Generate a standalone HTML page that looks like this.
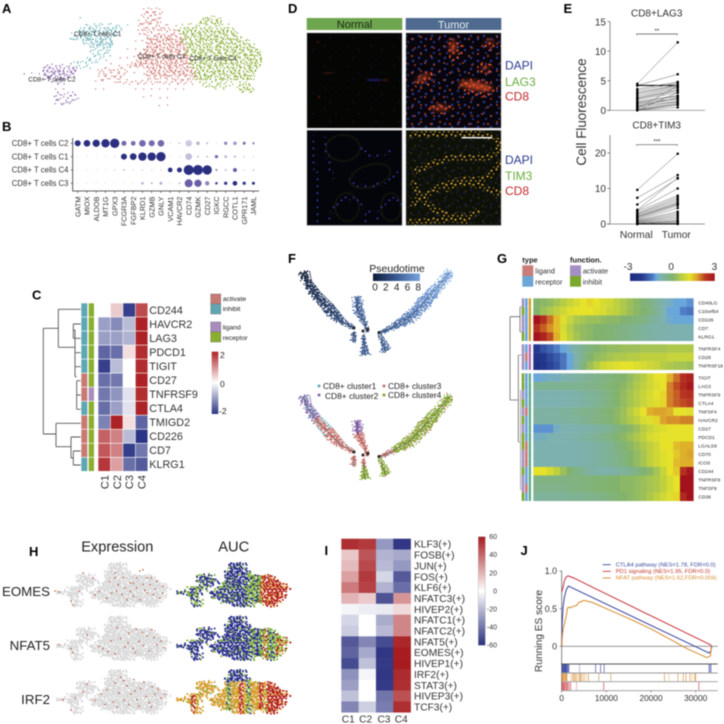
<!DOCTYPE html>
<html lang="en">
<head>
<meta charset="utf-8">
<title>CD8+ T cell multi-panel figure</title>
<style>
html,body{margin:0;padding:0;background:#fff;width:724px;height:724px;overflow:hidden}
svg{display:block;filter:blur(.42px)}
text{font-family:"Liberation Sans",sans-serif;fill:#222}
.L{font-weight:bold;font-size:13px;fill:#000}
</style>
</head>
<body>
<svg id="fig" xmlns="http://www.w3.org/2000/svg" width="724" height="724" viewBox="0 0 724 724">
<defs>
<filter id="blur1"><feGaussianBlur stdDeviation="2"/></filter>
<filter id="blur2"><feGaussianBlur stdDeviation="0.6"/></filter>
<pattern id="nuc" width="13" height="11" patternUnits="userSpaceOnUse">
<circle cx="3" cy="3" r="1.2" fill="#2b3a9a"/><circle cx="10" cy="6" r="1.2" fill="#2b3a9a"/><circle cx="5" cy="9" r="1" fill="#2b3a9a"/>
</pattern>
<pattern id="nucDim" width="23" height="21" patternUnits="userSpaceOnUse">
<circle cx="3" cy="4" r=".7" fill="#10143c"/><circle cx="14" cy="9" r=".8" fill="#10143c"/><circle cx="8" cy="17" r=".7" fill="#10143c"/>
</pattern>
<pattern id="redDots" width="8" height="7" patternUnits="userSpaceOnUse">
<circle cx="1.5" cy="1.5" r="1.1" fill="#e8552a"/><circle cx="5.5" cy="4" r="1.2" fill="#d9401f"/>
</pattern>
<pattern id="redSparse" width="19" height="17" patternUnits="userSpaceOnUse">
<circle cx="3" cy="3" r="1" fill="#d9481f"/><circle cx="13" cy="5" r="1.1" fill="#c93f1e"/><circle cx="7" cy="12" r="1" fill="#d9481f"/><circle cx="16" cy="14" r="1" fill="#c93f1e"/>
</pattern>
<pattern id="yelDots" width="9" height="7" patternUnits="userSpaceOnUse">
<circle cx="1.5" cy="1.5" r="1" fill="#dba92c"/><circle cx="5.5" cy="2.8" r="1.1" fill="#cf9a28"/><circle cx="3" cy="5.5" r=".9" fill="#d6a22a"/><circle cx="7.6" cy="6" r=".8" fill="#c08a24"/>
</pattern>
<pattern id="yelSparse" width="17" height="15" patternUnits="userSpaceOnUse">
<circle cx="3" cy="3" r=".9" fill="#c8962a"/><circle cx="12" cy="5" r=".8" fill="#8f6d20"/><circle cx="7" cy="11" r=".9" fill="#c8962a"/><circle cx="15" cy="13" r=".7" fill="#8f6d20"/>
</pattern>
<pattern id="bluDots" width="8" height="7" patternUnits="userSpaceOnUse">
<circle cx="1.5" cy="1.5" r="1" fill="#2c39a8"/><circle cx="5.5" cy="4.2" r="1" fill="#2c39a8"/>
</pattern>
<linearGradient id="ptGrad"><stop offset="0" stop-color="#0e1c38"/><stop offset=".5" stop-color="#3a5a92"/><stop offset="1" stop-color="#7aa5e0"/></linearGradient>
<linearGradient id="cbarC" x1="0" y1="0" x2="0" y2="1"><stop offset="0" stop-color="#ad2226"/><stop offset=".5" stop-color="#fff"/><stop offset="1" stop-color="#2c3585"/></linearGradient>
<linearGradient id="cbarI" x1="0" y1="0" x2="0" y2="1"><stop offset="0" stop-color="#a61c1f"/><stop offset=".5" stop-color="#fff"/><stop offset="1" stop-color="#2a3080"/></linearGradient>
<clipPath id="clipD1"><rect x="306.7" y="32.7" width="95.6" height="95.6"/></clipPath>
<clipPath id="clipD2"><rect x="405.7" y="32.7" width="95.6" height="95.6"/></clipPath>
<clipPath id="clipD3"><rect x="306.7" y="130" width="95.6" height="95.6"/></clipPath>
<clipPath id="clipD4"><rect x="405.7" y="130" width="95.6" height="95.6"/></clipPath>
</defs>

<text class="L" x="2" y="13">A</text>
<text class="L" x="2" y="131">B</text>
<text class="L" x="32" y="299.5">C</text>
<text class="L" x="288" y="13">D</text>
<text class="L" x="563.5" y="13">E</text>
<text class="L" x="288" y="263">F</text>
<text class="L" x="497" y="263">G</text>
<text class="L" x="29" y="556">H</text>
<text class="L" x="324.5" y="555">I</text>
<text class="L" x="520.5" y="555">J</text>

<g id="panelA"></g>
<g id="panelB"></g>

<g id="panelC">
<path fill="none" stroke="#555" stroke-width=".9" d="M43.3 328.3V434M43.3 328.3H58.3M58.3 309.3V347.3M58.3 309.3H80.7M58.3 347.3H75M75 330V376.7M75 330H73.3M73.3 324V338.3M73.3 324H80.7M73.3 338.3H80.7M75 352.7H80.7M75 366.7H80.7M75 376.7H76.7M76.7 380.7V409.3M76.7 380.7H80.7M76.7 395H80.7M76.7 409.3H80.7M43.3 434H56M56 423.3V446.7M56 423.3H80.7M56 446.7H71M71 437V458M71 437H80.7M71 458H73.3M73.3 451V465M73.3 451H80.7M73.3 465H80.7"/>
<rect x="210.7" y="294" width="10" height="10" fill="#c77a74" stroke="#777" stroke-width=".5"/>
<rect x="210.7" y="304" width="10" height="10" fill="#5fa6b3" stroke="#777" stroke-width=".5"/>
<text x="222.7" y="301" font-size="6.8">activate</text>
<text x="222.7" y="311" font-size="6.8">inhibit</text>
<rect x="210.7" y="322" width="10" height="10" fill="#a98bbd" stroke="#777" stroke-width=".5"/>
<rect x="210.7" y="332" width="10" height="10" fill="#8aaf2c" stroke="#777" stroke-width=".5"/>
<text x="222.7" y="329.5" font-size="6.8">ligand</text>
<text x="222.7" y="340" font-size="6.8">receptor</text>
<rect x="211.7" y="351.7" width="6.6" height="62.3" fill="url(#cbarC)"/>
<text x="220" y="358" font-size="8.5">2</text>
<text x="220" y="387" font-size="8.5">0</text>
<text x="219" y="414" font-size="8.5">-2</text>
</g>

<g id="panelD">
<rect x="306.7" y="18" width="95.6" height="12" fill="#6ea64f"/>
<rect x="405.7" y="18" width="95.6" height="12" fill="#4e6a8e"/>
<text x="354.5" y="28" font-size="11" text-anchor="middle" style="fill:#1c2a14">Normal</text>
<text x="453.5" y="28.3" font-size="11" text-anchor="middle" style="fill:#e8ecf2">Tumor</text>

<g clip-path="url(#clipD1)">
<rect x="306.7" y="32.7" width="95.6" height="95.6" fill="#050504"/>
<rect x="306.7" y="32.7" width="95.6" height="95.6" fill="url(#nucDim)"/>
<g filter="url(#blur2)">
<ellipse cx="374" cy="80" rx="8" ry="1.2" fill="#161c58"/>
<ellipse cx="328" cy="73" rx="6" ry="1" fill="#2c140c"/>
<ellipse cx="385" cy="80" rx="3" ry="1" fill="#3a180c"/>
<circle cx="318" cy="42" r="1.2" fill="#3a180c"/><circle cx="319" cy="97" r="1.2" fill="#4a1d0c"/>
</g>
</g>

<g clip-path="url(#clipD2)">
<rect x="405.7" y="32.7" width="95.6" height="95.6" fill="#08060c"/>
<rect x="405.7" y="32.7" width="95.6" height="95.6" fill="url(#nuc)"/>
<rect x="405.7" y="32.7" width="95.6" height="95.6" fill="url(#redSparse)" opacity=".8"/>
<g filter="url(#blur1)" fill="#c8441f">
<ellipse cx="453" cy="47" rx="4" ry="7" opacity=".6"/><ellipse cx="490" cy="43" rx="5" ry="3" opacity=".45"/>
<ellipse cx="476" cy="86" rx="17" ry="4" transform="rotate(10 476 86)" opacity=".85"/>
<ellipse cx="423" cy="78" rx="8" ry="3" transform="rotate(-30 423 78)" opacity=".6"/>
<ellipse cx="485" cy="68" rx="5" ry="3" opacity=".4"/><ellipse cx="440" cy="108" rx="9" ry="3" opacity=".55"/>
</g>
<g fill="url(#redDots)">
<ellipse cx="455" cy="50" rx="8" ry="11"/><ellipse cx="425" cy="80" rx="12" ry="7" transform="rotate(-30 425 80)"/>
<ellipse cx="478" cy="88" rx="20" ry="9" transform="rotate(10 478 88)"/><ellipse cx="440" cy="108" rx="14" ry="6"/><ellipse cx="490" cy="45" rx="8" ry="6"/><ellipse cx="485" cy="68" rx="8" ry="6"/>
</g>
</g>

<g clip-path="url(#clipD3)">
<rect x="306.7" y="130" width="95.6" height="95.6" fill="#04050a"/>
<g fill="none" stroke="#10130a" stroke-width="2">
<ellipse cx="343" cy="148" rx="17" ry="13"/><ellipse cx="370" cy="176" rx="21" ry="11" transform="rotate(-18 370 176)"/><ellipse cx="347" cy="207" rx="12" ry="14"/><ellipse cx="391" cy="207" rx="10" ry="14"/>
</g>
<g fill="none" stroke="url(#bluDots)" stroke-width="4">
<path d="M312 135C312 160 322 190 316 222"/><path d="M322 135C330 150 326 170 335 178"/>
<path d="M360 148C368 158 378 158 392 150"/><path d="M350 175C355 192 378 190 398 172"/><path d="M330 222C330 205 345 188 362 205"/><path d="M378 222C378 205 392 190 402 205"/>
<path d="M365 222C366 215 368 212 372 208"/>
</g>
</g>

<g clip-path="url(#clipD4)">
<rect x="405.7" y="130" width="95.6" height="95.6" fill="#0d1007"/>
<rect x="405.7" y="130" width="95.6" height="95.6" fill="url(#nucDim)"/>
<rect x="405.7" y="130" width="95.6" height="95.6" fill="url(#nuc)" opacity=".3"/>
<rect x="405.7" y="130" width="95.6" height="95.6" fill="url(#yelSparse)" opacity=".3"/>
<g fill="none" stroke="url(#yelDots)" stroke-width="6.5">
<path d="M408 136C425 132 445 136 460 134S490 135 503 145"/>
<path d="M412 172C430 165 445 155 470 158S495 150 503 143"/>
<path d="M410 205C425 195 450 178 470 180S495 170 502 160"/>
<path d="M412 180C420 195 425 205 440 212S470 218 480 210"/>
<path d="M445 190C460 178 485 185 500 195"/>
<path d="M408 222C425 224 450 215 470 222"/>
</g>
</g>

<rect x="306.7" y="32.7" width="95.6" height="95.6" fill="none" stroke="#d8d8d8" stroke-width=".8"/>
<rect x="405.7" y="32.7" width="95.6" height="95.6" fill="none" stroke="#d8d8d8" stroke-width=".8"/>
<rect x="306.7" y="130" width="95.6" height="95.6" fill="none" stroke="#d8d8d8" stroke-width=".8"/>
<rect x="405.7" y="130" width="95.6" height="95.6" fill="none" stroke="#d8d8d8" stroke-width=".8"/>
<rect x="461.7" y="137" width="30.6" height="1.4" fill="#fff"/>
<text x="505" y="69.5" font-size="12" style="fill:#2b3a8e">DAPI</text>
<text x="505" y="86" font-size="12" style="fill:#6aad3c">LAG3</text>
<text x="505" y="100.7" font-size="12" style="fill:#c0282c">CD8</text>
<text x="505" y="164" font-size="12" style="fill:#2b3a8e">DAPI</text>
<text x="505" y="180" font-size="12" style="fill:#6aad3c">TIM3</text>
<text x="505" y="195" font-size="12" style="fill:#c0282c">CD8</text>
</g>

<g id="panelE"></g>
<g id="panelF"></g>
<g id="panelG">
<path fill="none" stroke="#666" stroke-width=".8" d="M510 316.7V400M510 316.7H520M520 307V332M510 400H518.3M518.3 355V442"/>
<path fill="none" stroke="#aaa" stroke-width="1" d="M520 307H522M520 332H522M518.3 355H521.5M518.3 442H520.5M520.5 390V490"/>
</g>
<g id="panelH"></g>
<g id="panelI">
<rect x="478.3" y="536.7" width="7" height="108.6" fill="url(#cbarI)" stroke="#999" stroke-width=".3"/>
</g>
<g id="panelJ"></g>
</svg>

<script>
/* ---------- panel A data: density bins [tSNE row bin, from col bin, to col bin, density] ---------- */
const tsneC1Bins = [[3,14,15,1],[4,14,16,1],[5,16,24,2],[5,25,27,1],[6,15,25,3],[7,12,15,1],[7,15,24,3],[8,13,23,3],[9,16,23,3],[10,18,23,3],[11,18,22,2],[12,18,22,2],[13,17,21,2],[14,14,19,2],[15,14,17,2],[8,8,8,1],[12,4,4,1]];
const tsneC2Bins = [[14,6,8,1],[15,6,13,2],[16,2,4,1],[16,6,14,3],[17,0,5,1],[17,6,13,3],[18,7,12,3],[19,8,11,2],[20,8,10,1],[21,9,11,1],[22,9,14,2],[23,9,14,2],[24,9,13,2],[25,10,12,1]];
const tsneC3Bins = [[0,32,36,1],[1,31,35,2],[2,31,35,2],[3,31,35,2],[4,30,35,2],[5,30,36,2],[5,37,39,1],[6,30,39,2],[7,30,40,2],[8,28,31,1],[8,32,41,3],[9,28,31,1],[9,32,41,3],[10,27,31,1],[10,32,41,3],[11,26,30,1],[11,31,41,3],[12,25,29,1],[12,30,42,3],[13,25,29,1],[13,30,42,3],[14,24,28,1],[14,29,43,3],[15,22,27,1],[15,28,43,3],[16,20,26,2],[16,27,31,1],[16,32,44,3],[17,20,26,2],[17,27,31,1],[17,32,44,3],[18,20,25,2],[18,26,31,1],[18,32,44,2],[19,18,22,1],[19,24,43,2],[20,18,25,1],[20,26,42,1],[21,18,22,1],[21,28,41,1],[22,30,40,1],[23,30,38,1],[24,32,38,1],[25,34,38,1]];
const tsneC4Bins = [[3,46,50,2],[4,45,50,3],[5,41,52,2],[6,40,53,3],[7,41,54,3],[8,41,55,3],[9,41,57,3],[10,42,58,3],[11,42,59,3],[12,42,60,3],[13,43,60,3],[14,43,60,3],[15,43,60,3],[16,44,59,3],[17,44,58,3],[18,44,58,3],[19,45,53,2],[19,55,57,2],[20,46,52,2],[20,55,57,3],[21,48,51,1],[21,55,58,3],[22,49,50,1]];

/* ---------- panel B data ---------- */
const dotGenes = ["GATM","MIOX","ALDOB","MT1G","GPX3","FCGR3A","FGFBP2","KLRD1","GZMB","GNLY","VCAM1","HAVCR2","CD74","GZMK","CD27","IGKC","RGCC","COTL1","GPR171","JAML"];
const dotRows = ["CD8+ T cells C2","CD8+ T cells C1","CD8+ T cells C4","CD8+ T cells C3"];
const dotPctC2 = [18,20,22,25,28,15,14,20,18,20,4,5,20,11,6,3,10,11,9,7];
const dotPctC1 = [3,3,3,3,4,18,20,25,25,28,3,4,20,7,5,10,8,7,4,3];
const dotPctC4 = [3,3,3,3,4,6,4,4,4,4,14,15,30,30,28,7,7,12,4,5];
const dotPctC3 = [3,3,3,3,3,3,3,8,6,9,3,5,24,22,13,8,10,14,10,9];
const dotExpC2 = [1,1,1,1,1,.7,.7,.7,.7,.7,.3,.4,.3,.4,.4,.3,.6,.5,.7,.6];
const dotExpC1 = [.3,.3,.3,.3,.3,1,1,1,1,1,.3,.3,.35,.3,.4,.7,.4,.4,.4,.4];
const dotExpC4 = [.3,.3,.3,.3,.3,.35,.3,.3,.3,.3,1,1,1,1,1,.5,.3,.75,.3,.4];
const dotExpC3 = [.3,.3,.3,.3,.3,.3,.3,.4,.4,.4,.3,.5,.75,.75,.6,.9,.95,1,.95,1];

/* ---------- panel C data ---------- */
const cGenes = ["CD244","HAVCR2","LAG3","PDCD1","TIGIT","CD27","TNFRSF9","CTLA4","TMIGD2","CD226","CD7","KLRG1"];
const cColumns = ["C1","C2","C3","C4"];
const cValues = [[0,.5,-2,1.7],[-1,-1.2,-.7,2.1],[-1,-1,-.8,2.1],[-1.6,-1.5,.3,2],[-2,-.7,0,2],[-1.5,-1.4,0,2.1],[-1.4,-1.1,-.3,2],[-1.5,-1,-.3,2.1],[-1.3,2.1,.3,-1.6],[1.5,1.2,-.7,-2.1],[1.6,1.2,-2,-1.4],[1.9,.9,-1.5,-1.7]];
const cFunction = ["inhibit","inhibit","inhibit","inhibit","inhibit","activate","activate","inhibit","activate","activate","activate","inhibit"];
const cType = ["receptor","receptor","receptor","receptor","receptor","receptor","ligand","receptor","receptor","receptor","receptor","receptor"];

/* ---------- panel E data ---------- */
const lag3Normal = [4.5,4.2,4.2,3.6,3.3,3,2.8,2.5,2.2,2,2,1.8,1.5,1.3,1.2,1,.8,.6,.5,.3,.2,.1,0,0,0];
const lag3Tumor  = [11.5,6.1,4.2,4.8,4.6,4.3,4.2,4,3.8,3.5,3.3,3,2.5,2.4,2,1.8,1.5,2.2,1.4,4.1,1.2,1,.5,.9,3];
const tim3Normal = [9.6,7.4,5.5,4,3.8,3.5,3,2.8,2.5,2.2,2,1.8,1.5,1.2,1,.8,.6,.5,.3,.2,.1,0,0,0];
const tim3Tumor  = [19.8,13.8,12.8,13,10,8,7.5,7,6.5,6,5.8,5.5,5.2,4.5,3.5,3,2.5,2,1.5,1,.8,.5,.2,0];
const lag3Ticks = [0,5,10,15];
const tim3Ticks = [0,10,20];

/* ---------- panel F data: trajectory branches in component coords ---------- */
const armLeftD1 = [-7.5,-7.1,-6.2,-5,-3.8,-2.4];
const armLeftD2 = [6.1,5.1,3.8,2.5,1.3,.4];
const armLeftW = [6,4,5,6,4,1];
const armLeftPT = [0,.5,1.2,2,2.8,3.5];
const armLeftCl = "pptrrr";
const armRightD1 = [7.2,5.9,4.2,3.2,1.5,.1];
const armRightD2 = [6.1,4.5,2.6,1.6,.6,0];
const armRightW = [5,5,7,6,3,1];
const armRightPT = [8,7.5,6.5,5.8,4.8,4];
const armRightCl = "ggggrr";
const midUpD1 = [-2.1,-2,-1.3,-1.1];
const midUpD2 = [3.6,2.3,1,.1];
const midUpW = [5,5,2,1];
const midUpPT = [5,4.6,4,3.8];
const midUpCl = "prrr";
const lowAD1 = [-2.4,-2.5];
const lowAD2 = [.1,-.9];
const lowAW = [1,3];
const lowAPT = [3.6,4];
const lowACl = "rr";
const lowBD1 = [-1.5,-1.4,-1.3];
const lowBD2 = [-.2,-1,-2.2];
const lowBW = [1,1.5,5];
const lowBPT = [3.8,4,4.4];
const lowBCl = "rgg";
const lowCD1 = [.1,.5,.8];
const lowCD2 = [-.2,-1,-1.9];
const lowCW = [1,3,5];
const lowCPT = [4,4.3,4.6];
const lowCCl = "ggg";
const nodeD1 = [-2.4,-1.5,-1,.1];
const nodeD2 = [.5,.2,.35,.05];
const ptTicks = [0,2,4,6,8];

/* ---------- panel G data ---------- */
const gBlocks = [5,3,15];
const gGenes = ["CD40LG","C10orf54","CD226","CD7","KLRG1","TNFRSF4","CD28","TNFRSF18","TIGIT","LAG3","TNFRSF9","CTLA4","TNFSF4","HAVCR2","CD27","PDCD1","LGALS9","CD70","ICOS","CD244","TNFRSF8","TNFSF9","CD38"];
const gFunction = "pgppgpppggpgpgpggppgppg";
const gType = "rrrrrrlrrrrrlrrrlllrrlr";
const gValues = [
[0,.1,.2,.4,.6,.8,1,1.2,1.3,1.2,1,.9,.7,.5,.3,.1,-.1,-.3,-.6,-.9,-1,-1.2,-1.2,-1.3],
[0,.3,.5,.7,.9,1.1,1.2,1.2,1.2,1.1,1,.8,.7,.5,.3,.1,0,-.2,-.5,-.9,-1.2,-1.2,-1.4,-1.5],
[3,2.5,2,1.5,1.1,.8,.5,.4,.3,.3,.2,.1,.1,0,-.1,-.2,-.3,-.5,-.7,-.9,-1.1,-1.2,-1.2,-1.2],
[2.5,2.1,1.8,1.5,1,.6,.3,.2,.1,0,0,-.1,-.2,-.3,-.4,-.5,-.6,-.7,-.8,-.8,-.9,-.9,-.9,-.9],
[3,2.7,2.2,1.6,1.1,.7,.4,.2,.1,0,0,-.1,-.2,-.3,-.4,-.5,-.6,-.7,-.8,-.8,-.9,-.9,-.9,-.9],
[-2.2,-1.9,-1.7,-1.4,-1.2,-1,-.7,-.5,-.2,0,.1,.2,.2,.3,.3,.3,.4,.4,.4,.4,.5,.5,.5,.5],
[-2.6,-2.3,-2,-1.8,-1.5,-1.2,-.8,-.4,0,.2,.3,.4,.5,.5,.6,.6,.7,.7,.7,.7,.8,.8,.8,.8],
[-2.7,-2.4,-2.1,-1.9,-1.5,-1.2,-.7,-.2,.3,.6,.9,1,1.1,1.2,1.2,1.1,1,.9,.8,.6,.5,.4,.4,.3],
[-1.2,-1.1,-1,-1,-.9,-.8,-.7,-.6,-.5,-.4,-.3,-.2,-.1,0,.2,.4,.6,.9,1.2,1.2,1.6,2,2.5,2.7],
[-.5,-.5,-.5,-.5,-.5,-.5,-.5,-.4,-.4,-.3,-.2,-.1,0,.1,.3,.5,.7,.9,1.1,1.2,1.9,2.2,2.6,2.9],
[-.9,-.9,-.9,-.9,-.9,-.9,-.8,-.7,-.6,-.5,-.4,-.2,0,.2,.4,.6,.8,1,1.2,1.3,1.9,2.1,2.4,2.5],
[-.9,-.9,-.9,-.9,-.9,-.8,-.8,-.7,-.6,-.5,-.4,-.2,0,.2,.4,.6,.8,1,1.1,1.3,1.9,2.1,2.2,2.3],
[-.7,-.7,-.7,-.7,-.6,-.6,-.5,-.4,-.4,-.3,-.2,0,.1,.3,.6,.9,1.2,1.6,1.7,1.7,1.6,1.2,1.2,1.1],
[-.7,-.7,-.7,-.7,-.7,-.6,-.6,-.5,-.4,-.3,-.2,-.1,.1,.3,.5,.7,1,1.1,1.3,1.7,1.8,1.8,1.9,1.9],
[-1.3,-1.3,-1.3,-1,-.9,-.9,-.9,-.8,-.8,-.7,-.6,-.5,-.3,-.1,.1,.3,.6,.8,1,1.1,1.2,1.2,1.2,1.2],
[-1,-1,-.9,-.9,-.9,-.8,-.8,-.7,-.6,-.5,-.4,-.3,-.1,.1,.3,.5,.7,1,1.1,1.2,1.2,1.2,1.2,1.2],
[-.9,-.9,-.9,-.9,-.9,-.9,-.9,-.8,-.8,-.7,-.6,-.5,-.3,-.1,.1,.3,.5,.7,.9,1.2,1.2,1.5,1.6,1.6],
[-.9,-.9,-.9,-.9,-.9,-.9,-.9,-.8,-.8,-.7,-.6,-.5,-.4,-.2,0,.2,.4,.7,.9,1.1,1.2,1.4,1.6,1.7],
[-.9,-.9,-.9,-.9,-.9,-.9,-.9,-.8,-.8,-.7,-.6,-.5,-.4,-.2,0,.2,.4,.7,.9,1.1,1.2,1.5,1.6,1.6],
[1.2,1.2,1,.7,.3,0,-.3,-.5,-.7,-.8,-.8,-.8,-.7,-.6,-.5,-.3,-.1,.1,.4,.8,1.2,1.4,2.5,2.9],
[-.3,-.3,-.3,-.3,-.3,-.3,-.2,-.2,-.2,-.1,-.1,0,0,.1,.1,.2,.3,.4,.5,.7,1,1.2,3,3],
[-.4,-.4,-.4,-.4,-.4,-.3,-.3,-.2,-.2,-.1,-.1,0,0,.1,.1,.2,.3,.4,.5,.7,1,1.2,3,3],
[-.6,-.6,-.6,-.6,-.6,-.5,-.5,-.5,-.4,-.4,-.3,-.2,-.1,0,.1,.2,.3,.5,.7,.9,1.1,1.3,2.6,3]
];
const gBarTicks = [-3,0,3];

/* ---------- panel H data ---------- */
const hMaskBins = [[0,13,17],[1,13,17],[2,12,18],[3,5,9],[3,12,24],[4,5,10],[4,12,25],[5,6,9],[5,11,27],[6,3,7],[6,10,28],[7,0,6],[7,8,27],[8,3,5],[8,9,27],[9,4,6],[9,11,26],[10,4,6],[10,14,19],[10,22,25]];
const hGenes = ["EOMES","NFAT5","IRF2"];
const exprEOMES = [[0,7],[1,7.2],[4,9.5],[4.5,10.5],[7,2.5],[9.5,3.7],[6,7.1],[10,8],[13.7,4.6],[15,2.5],[15.8,5.4],[17,3.7],[18.8,5],[19.6,5],[21.2,2],[22,1.7],[23,3.7],[15.4,7],[16.7,7.9],[18.8,7.1],[20.4,6.2],[22,5.4],[23.8,5.4],[25.4,4.6],[27,5.8],[18,9.2],[23,7.5],[24.6,7.9],[26.2,8.8],[19.6,8.3],[21.3,9.2],[14.2,7.5],[24.1,3.7],[27,7.5],[11,7.1],[12.9,8.8],[15,3.7],[20.4,3.7],[22.5,6.8],[17.5,6.2],[25,6.5]];
const exprNFAT5 = [[1,7],[4.5,9],[4,8],[8,4.6],[11,7.5],[14,6],[15.5,2.8],[16.5,5.5],[17.5,7.6],[18.5,4.2],[19.5,8],[20.3,3.2],[21,6.2],[22,7.2],[23,4.8],[23.6,8.6],[24.8,5.2],[25.5,7],[26.5,6.2],[27.3,7.8],[13.3,8.8],[15,9.3],[18.3,6.6],[21.8,4],[24.2,3.4],[12,8],[20,9]];
const exprIRF2 = [[2,7.4],[5,7],[4,10],[8,3.5],[7,5.5],[10,7.5],[11.5,6],[13,5],[14.5,8],[15,3.2],[16,5.8],[16.5,1.8],[17.3,7.5],[18,4],[19,6],[19.7,2.4],[20.5,7.4],[21.4,4.6],[22.2,3],[22.8,6.6],[23.5,8.2],[24.3,4.2],[25,6],[25.8,4.8],[26.5,7],[27.4,6],[12.5,8.6],[15.5,9.2],[18.5,8.6],[21,9],[24,9.2],[20,5.2],[17.2,2.7]];
const aucEOMES = "xgxgxgxxxxxxxxxxbxgggysssrrrr";
const aucNFAT5 = "bbbbbbbbbbbbbbbbxbxgxgyggyyyy";
const aucIRF2 = "oooosoooooooogoosogoosorrrrrrr";
const aucTopLevel = ["b","b","b"];
const aucTopCols = [17,18,17];
const aucTopRows = [3,3,2];

/* ---------- panel I data ---------- */
const iRegulons = ["KLF3(+)","FOSB(+)","JUN(+)","FOS(+)","KLF6(+)","NFATC3(+)","HIVEP2(+)","NFATC1(+)","NFATC2(+)","NFAT5(+)","EOMES(+)","HIVEP1(+)","IRF2(+)","STAT3(+)","HIVEP3(+)","TCF3(+)"];
const iColumns = ["C1","C2","C3","C4"];
const iValues = [[55,52,-30,-58],[15,45,-22,-25],[18,48,-20,-30],[25,52,-12,-48],[35,50,-22,-42],[20,14,-50,28],[-3,-5,-6,10],[-12,0,-24,32],[-15,0,-20,32],[-48,-35,-52,57],[-45,-25,-58,60],[-52,-18,-57,60],[-32,-3,-58,56],[-28,0,-57,55],[-18,0,-40,46],[-35,-14,-38,55]];
const iBarTicks = [60,40,20,0,-20,-40,-60];

/* ---------- panel J data ---------- */
const ctla4Rank = [0,100,300,600,1000,1500,33000,33400,33600];
const ctla4ES = [0,.3,.52,.65,.75,.8,-.09,-.06,0];
const pd1Rank = [0,300,600,1000,1400,3000,6000,33300,33500];
const pd1ES = [.72,.78,.87,.92,.935,.9,.81,.02,0];
const nfatRank = [0,150,400,700,1000,1300,1700,2000,2500,3300,3800,5000,7000,10000,15000,20000,25000,28000,31000,32500,33300,33500];
const nfatES = [0,.15,.25,.32,.4,.51,.52,.51,.53,.54,.58,.61,.58,.5,.37,.23,.07,-.03,-.11,-.15,-.13,0];
const ctla4Hits = [100,200,300,400,500,600,700,800,900,1000,1100,1200,1400,1600,4000,7600,8700,9500,33000,33200,33400];
const nfatHits = [100,200,300,500,600,800,900,1000,1200,2000,2400,2700,3000,3300,3700,4000,4200,4500,5000,5500,6000,8300,11000,23000,24000,26000,27200,27800,28700,29200,29800,30000];
const pd1Hits = [100,300,500,700,900,1100,1300,1600,2000,3300,9400,30700];
const jYTicks = [1,.5,0];
const jYLabels = ["1.0","0.5","0"];
const jXTicks = [0,10000,20000,30000];
const jLegend = ["CTLA4 pathway (NES=1.78, FDR=0.0)","PD1 signaling (NES=1.95, FDR=0.0)","NFAT pathway (NES=1.62,FDR=0.004)"];

/* ---------- helpers ---------- */
const NS = "http://www.w3.org/2000/svg";
/* fixed stipple tile + sub-cell lattice: keeps density clouds evenly covered while hiding the bin grid */
const stippleTile = [[.3,.7],[2.9,.2],[1.6,2.4],[3.6,3.1],[.6,3.4],[2.2,1],[3.3,1.7],[1,1.3],[2.6,3.6],[.1,2.1],[3.8,.6],[1.9,.1],[1.2,3.7],[3,2.6],[.8,.2],[2.3,2.9],[3.5,3.8],[.4,1.5],[1.5,.8],[2.8,1.9]];
const subCell = [[1,1],[3,3],[3,1],[1,3],[2,2],[2,0],[0,2],[3.6,2]];
function hashIdx(c, r, k){ return Math.abs(c * c * 5 + r * r * 11 + c * r * 3 + k * 17 + c * 7 + r * 13); }
function jitterAt(c, r, k, scale){
  const t = stippleTile[hashIdx(c, r, k) % stippleTile.length];
  return [(t[0] - 1.9) * scale, (t[1] - 1.9) * scale];
}
function cellDot(c, r, k, scale){
  const s = subCell[k % subCell.length], j = jitterAt(c, r, k, scale);
  return [s[0] + j[0], s[1] + j[1]];
}
function mark(parent, tag, attrs, name) {
  const e = document.createElementNS(NS, tag);
  for (const k in attrs) e.setAttribute(k, attrs[k]);
  
  
  parent.appendChild(e);
  return e;
}
function label(parent, x, y, str, size, name, extra) {
  const e = mark(parent, 'text', Object.assign({x: x, y: y, 'font-size': size}, extra || {}), name);
  e.textContent = str;
  return e;
}
function dots(parent, color, r, pts, name, opacity) {
  if (!pts.length) return;
  let d = "";
  for (const p of pts) d += "M" + p[0].toFixed(2) + " " + p[1].toFixed(2) + "h.01";
  mark(parent, 'path', {d: d, fill: 'none', stroke: color, 'stroke-width': 2 * r, 'stroke-linecap': 'round', opacity: opacity || 1}, name);
}
function hex(c){return [parseInt(c.slice(1,3),16),parseInt(c.slice(3,5),16),parseInt(c.slice(5,7),16)];}
function ramp(stops, v){
  if (v <= stops[0][0]) return stops[0][1];
  for (let i = 1; i < stops.length; i++) {
    if (v <= stops[i][0]) {
      const t = (v - stops[i-1][0]) / (stops[i][0] - stops[i-1][0]);
      const a = hex(stops[i-1][1]), b = hex(stops[i][1]);
      return "rgb(" + a.map((u,j) => Math.round(u + (b[j]-u)*t)).join(",") + ")";
    }
  }
  return stops[stops.length-1][1];
}
const g = id => document.getElementById(id);

/* ---------- panel A ---------- */
(function(){
  const P = g('panelA');
  const xA = b => 18 + 4 * b, yA = r => 4 + 4 * r;
  function cloud(bins, color, name){
    const pts = [];
    for (const [r, a, b, dens] of bins) {
      for (let c = a; c <= b; c++) {
        const count = dens === 1 ? (hashIdx(c, r, 0) % 2 ? 1 : 0) : dens === 2 ? 2 : 4;
        const start = dens === 2 ? (c + r) % 2 * 2 : hashIdx(c, r, 1) % 4;
        for (let k = 0; k < count; k++) {
          const o = cellDot(c, r, start + k, .7);
          pts.push([xA(c) + o[0], yA(r) + o[1]]);
        }
      }
    }
    dots(P, color, .68, pts, name);
  }
  cloud(tsneC3Bins, '#cf7670', 'cluster-c3-points');
  cloud(tsneC1Bins, '#62abb4', 'cluster-c1-points');
  cloud(tsneC2Bins, '#8a66ad', 'cluster-c2-points');
  cloud(tsneC4Bins, '#84ab2c', 'cluster-c4-points');
  label(P, 74, 36, "CD8+ T cells C1", 6.5, 'cluster-label-c1');
  label(P, 137.7, 58.3, "CD8+ T cells C3", 6.5, 'cluster-label-c3');
  label(P, 189.3, 60.7, "CD8+ T cells C4", 6.5, 'cluster-label-c4');
  label(P, 28.3, 81.3, "CD8+ T cells C2", 6.5, 'cluster-label-c2');
})();

/* ---------- panel B ---------- */
(function(){
  const P = g('panelB');
  const xB = i => 77.7 + 9.25 * i;
  const yB = i => 143.3 + 13.33 * i;
  const rB = v => v / 6;
  const pcts = [dotPctC2, dotPctC1, dotPctC4, dotPctC3];
  const exps = [dotExpC2, dotExpC1, dotExpC4, dotExpC3];
  const cmap = [[0,'#e4e0f0'],[.3,'#cfc9e2'],[.6,'#8f80bb'],[.8,'#5d53a0'],[1,'#2b2f80']];
  mark(P, 'path', {d: 'M72.7 138V191H259', fill: 'none', stroke: '#333', 'stroke-width': .8}, 'dotplot-axes');
  dotRows.forEach((name, r) => {
    label(P, 68.5, yB(r) + 2.7, name, 7.8, 'row-label-' + (r + 1), {'text-anchor': 'end', style: 'fill:#333'});
    mark(P, 'path', {d: 'M70.7 ' + yB(r) + 'H72.7', stroke: '#333', 'stroke-width': .6}, 'row-tick');
    dotGenes.forEach((gene, c) => {
      mark(P, 'circle', {cx: xB(c), cy: yB(r), r: rB(pcts[r][c]), fill: ramp(cmap, exps[r][c])}, 'dot-' + gene.toLowerCase() + '-' + (r + 1));
    });
  });
  dotGenes.forEach((gene, c) => {
    mark(P, 'path', {d: 'M' + xB(c) + ' 191V193', stroke: '#333', 'stroke-width': .6}, 'column-tick');
    label(P, xB(c) + 2.7, 196.5, gene, 7.3, 'gene-label', {'text-anchor': 'end', transform: 'rotate(-90 ' + (xB(c) + 2.7) + ' 196.5)', style: 'fill:#333'});
  });
})();

/* ---------- panel C ---------- */
(function(){
  const P = g('panelC');
  const xC = i => 98.3 + 12.45 * i;
  const yC = i => 303.3 + 14.03 * i;
  const cmap = [[-2.1,'#2c3585'],[0,'#ffffff'],[2.1,'#ad2226']];
  const fnColor = {activate: '#c77a74', inhibit: '#5fa6b3'};
  const tyColor = {ligand: '#a98bbd', receptor: '#8aaf2c'};
  cGenes.forEach((gene, r) => {
    mark(P, 'rect', {x: 81.3, y: yC(r), width: 6, height: 13.4, fill: fnColor[cFunction[r]]}, 'annotation-function-' + gene.toLowerCase());
    mark(P, 'rect', {x: 88.7, y: yC(r), width: 5.3, height: 13.4, fill: tyColor[cType[r]]}, 'annotation-type-' + gene.toLowerCase());
    cColumns.forEach((col, c) => {
      mark(P, 'rect', {x: xC(c), y: yC(r), width: 11.9, height: 13.4, fill: ramp(cmap, cValues[r][c])}, 'cell-' + gene.toLowerCase() + '-' + col.toLowerCase());
    });
    label(P, 149.3, yC(r) + 10.6, gene, 10.8, 'gene-label-' + gene.toLowerCase(), {style: 'fill:#333'});
  });
  cColumns.forEach((col, c) => {
    const x = xC(c) + 10;
    label(P, x, 475, col, 11, 'column-label-' + col.toLowerCase(), {'text-anchor': 'end', transform: 'rotate(-90 ' + x + ' 475)', style: 'fill:#333'});
  });
})();

/* ---------- panel E ---------- */
(function(){
  const P = g('panelE');
  const xN = 637.3, xT = 677.7;
  function paired(normal, tumor, ticks, yScale, top, title, titleY, bracketY, stars, prefix){
    mark(P, 'path', {d: 'M610 ' + top + 'V' + yScale(0), fill: 'none', stroke: '#777', 'stroke-width': .8}, prefix + '-y-axis');
    mark(P, 'path', {d: 'M607 ' + yScale(0) + 'H705', fill: 'none', stroke: '#999', 'stroke-width': .9}, prefix + '-baseline');
    ticks.forEach(t => {
      mark(P, 'path', {d: 'M607.5 ' + yScale(t) + 'H610', stroke: '#555', 'stroke-width': .7}, prefix + '-tick');
      label(P, 606, yScale(t) + 3.6, String(t), 10, prefix + '-tick-label', {'text-anchor': 'end', style: 'fill:#333'});
    });
    label(P, 656.7, titleY, title, 10, prefix + '-title', {'text-anchor': 'middle', style: 'fill:#333'});
    mark(P, 'path', {d: 'M636.7 ' + (bracketY + 1.2) + 'V' + bracketY + 'H677.3V' + (bracketY + 1.2), fill: 'none', stroke: '#555', 'stroke-width': .7}, prefix + '-bracket');
    label(P, 657, bracketY - 1, stars, 6, prefix + '-significance', {'text-anchor': 'middle', style: 'fill:#222'});
    normal.forEach((v, i) => {
      const flat = Math.abs(v - tumor[i]) < .01;
      mark(P, 'line', {x1: xN, y1: yScale(v), x2: xT, y2: yScale(tumor[i]), stroke: flat ? '#111' : '#666', 'stroke-width': flat ? 1.1 : .5}, prefix + '-pair-line');
      mark(P, 'circle', {cx: xN, cy: yScale(v), r: 1.25, fill: '#000'}, prefix + '-normal-point');
      mark(P, 'circle', {cx: xT, cy: yScale(tumor[i]), r: 1.25, fill: '#000'}, prefix + '-tumor-point');
    });
  }
  paired(lag3Normal, lag3Tumor, lag3Ticks, v => 110.3 - v * 5.91, 21.7, "CD8+LAG3", 16.7, 34, "**", 'lag3');
  paired(tim3Normal, tim3Tumor, tim3Ticks, v => 224 - v * 3.55, 135, "CD8+TIM3", 128.3, 144.7, "***", 'tim3');
  label(P, 586, 112, "Cell Fluorescence", 13.4, 'y-axis-title', {'text-anchor': 'middle', transform: 'rotate(-90 586 112)', style: 'fill:#333'});
  label(P, 636.3, 238, "Normal", 10.2, 'x-label-normal', {'text-anchor': 'middle', style: 'fill:#333'});
  label(P, 676.3, 238, "Tumor", 10.2, 'x-label-tumor', {'text-anchor': 'middle', style: 'fill:#333'});
})();

/* ---------- panel F ---------- */
(function(){
  const P = g('panelF');
  const xF = d => 378 + 10 * d;
  const branches = [
    [armLeftD1, armLeftD2, armLeftW, armLeftPT, armLeftCl],
    [armRightD1, armRightD2, armRightW, armRightPT, armRightCl],
    [midUpD1, midUpD2, midUpW, midUpPT, midUpCl],
    [lowAD1, lowAD2, lowAW, lowAPT, lowACl],
    [lowBD1, lowBD2, lowBW, lowBPT, lowBCl],
    [lowCD1, lowCD2, lowCW, lowCPT, lowCCl]
  ];
  const ptRamp = [[0,'#0e1c38'],[2,'#223a66'],[4,'#3a5a92'],[6,'#4f77b5'],[8,'#7aa5e0']];
  const clColor = {p: '#8a66ad', t: '#62abb4', r: '#cd6f68', g: '#7da52b'};
  function draw(base, colorFn, prefix){
    const yF = d => base - 10 * d;
    const buckets = {};
    branches.forEach((br, bi) => {
      const [d1, d2, w, pt, cl] = br;
      let counter = 0;
      for (let s = 0; s < d1.length - 1; s++) {
        const x0 = xF(d1[s]), y0 = yF(d2[s]), x1 = xF(d1[s+1]), y1 = yF(d2[s+1]);
        const len = Math.hypot(x1 - x0, y1 - y0), steps = Math.ceil(len / 1);
        const nx = -(y1 - y0) / len, ny = (x1 - x0) / len;
        for (let k = 0; k < steps; k++) {
          const t = k / steps, cx = x0 + (x1 - x0) * t, cy = y0 + (y1 - y0) * t, hw = w[s] + (w[s+1] - w[s]) * t;
          const ptv = pt[s] + (pt[s+1] - pt[s]) * t;
          let m = 0;
          for (let o = -hw; o <= hw + .01; o += 1.15) {
            counter++; m++;
            if (Math.abs(o) > hw * .6 && hw > 2 && hashIdx(k, m, s) % 2 === 0) continue;
            const c = colorFn(ptv, cl[s], hashIdx(k, m, bi));
            const jit = jitterAt(k + s * 9, m + bi * 3, m, .55);
            (buckets[c] = buckets[c] || []).push([cx + nx * o + jit[0], cy + ny * o + jit[1]]);
          }
        }
      }
    });
    Object.keys(buckets).forEach(c => dots(P, c, .7, buckets[c], prefix + '-cells'));
    branches.forEach(br => {
      const pts = br[0].map((v, i) => xF(v) + "," + yF(br[1][i])).join(" ");
      mark(P, 'polyline', {points: pts, fill: 'none', stroke: '#222', 'stroke-width': .4}, prefix + '-trajectory-line');
    });
    nodeD1.forEach((v, i) => {
      mark(P, 'circle', {cx: xF(v), cy: yF(nodeD2[i]), r: 1.3, fill: '#333', stroke: '#111', 'stroke-width': .5}, prefix + '-branch-node');
    });
  }
  draw(333, (pt) => ramp(ptRamp, Math.round(pt * 2) / 2), 'pseudotime');
  draw(457, (pt, cl, n) => {
    if (cl === 't') return n % 2 ? clColor.t : clColor.r;
    if (cl === 'g') return n % 7 === 0 ? clColor.r : clColor.g;
    if (cl === 'p') return n % 6 === 0 ? clColor.t : clColor.p;
    return n % 9 === 0 ? clColor.t : clColor.r;
  }, 'cluster');
  label(P, 397, 272, "Pseudotime", 10.5, 'colorbar-title', {'text-anchor': 'middle', style: 'fill:#222'});
  mark(P, 'rect', {x: 373, y: 273.5, width: 47, height: 7.5, fill: 'url(#ptGrad)'}, 'pseudotime-colorbar');
  ptTicks.forEach(t => {
    label(P, 375 + t * 5.4, 290.5, String(t), 10, 'colorbar-tick-' + t, {'text-anchor': 'middle', style: 'fill:#222'});
  });
  const leg = [["CD8+ cluster1", 319, 386, 323, 389, '#62abb4'], ["CD8+ cluster2", 319, 395, 325, 399, '#8a66ad'], ["CD8+ cluster3", 384, 386, 388, 389, '#cd6f68'], ["CD8+ cluster4", 384, 395, 388, 398, '#7da52b']];
  leg.forEach((l, i) => {
    mark(P, 'circle', {cx: l[1], cy: l[2], r: 1.5, fill: l[5]}, 'legend-dot-' + (i + 1));
    label(P, l[3], l[4], l[0], 8.4, 'legend-label-' + (i + 1), {style: 'fill:#222'});
  });
})();

/* ---------- panel G ---------- */
(function(){
  const P = g('panelG');
  const cmap = [[-3,'#1e2a80'],[-2.2,'#24388f'],[-1.4,'#4f7ec4'],[-1.2,'#69a6da'],[-.9,'#7db1b0'],[0,'#82b36e'],[.7,'#bfd03f'],[1.2,'#e6e22a'],[1.7,'#dca32a'],[2.3,'#b93a22'],[3,'#a3121c']];
  const blockTop = [298.3, 344.3, 373.3];
  const rowH = [8.53, 8.53, 8.51];
  const blockColor = ['#d49a1a', '#b06ab0', '#5aa888'];
  const xG = i => 533.3 + 6.667 * i;
  const fnC = {p: '#a48fc4', g: '#7aa82a'}, tyC = {r: '#6da5d8', l: '#c97c78'};
  let idx = 0;
  gBlocks.forEach((n, b) => {
    for (let r = 0; r < n; r++, idx++) {
      const y = blockTop[b] + r * rowH[b];
      gValues[idx].forEach((v, c) => {
        mark(P, 'rect', {x: xG(c), y: y, width: 7, height: rowH[b] + .1, fill: ramp(cmap, v)}, 'cell-' + gGenes[idx].toLowerCase() + '-' + c);
      });
      mark(P, 'rect', {x: 521.7, y: y, width: 2.6, height: rowH[b], fill: fnC[gFunction[idx]]}, 'annotation-function');
      mark(P, 'rect', {x: 525, y: y, width: 2.7, height: rowH[b], fill: tyC[gType[idx]]}, 'annotation-type');
      mark(P, 'rect', {x: 528.7, y: y, width: 2.3, height: rowH[b], fill: blockColor[b]}, 'annotation-block');
      label(P, 698.3, y + 6, gGenes[idx], 4.9, 'gene-label-' + gGenes[idx].toLowerCase(), {style: 'fill:#222'});
    }
  });
  label(P, 522.3, 262.7, "type", 7.5, 'legend-title-type', {'font-weight': 'bold'});
  label(P, 570, 262.7, "function.", 7.5, 'legend-title-function', {'font-weight': 'bold'});
  const leg = [[522.3, 265.3, '#c97c78', 'ligand', 535.3, 273.3], [522.3, 276, '#6da5d8', 'receptor', 535.3, 284.3], [570, 265.3, '#a48fc4', 'activate', 582.7, 273.3], [570, 276, '#7aa82a', 'inhibit', 582.7, 284.3]];
  leg.forEach(l => {
    mark(P, 'rect', {x: l[0], y: l[1], width: 11, height: 10.7, fill: l[2]}, 'legend-swatch-' + l[3]);
    label(P, l[4], l[5], l[3], 7.4, 'legend-label-' + l[3], {style: 'fill:#333'});
  });
  const xBar = v => 672.2 + v * 14.05;
  for (let v = -3; v < 3; v += .1) {
    mark(P, 'rect', {x: xBar(v), y: 273.3, width: 1.8, height: 7.7, fill: ramp(cmap, v)}, 'colorbar-step');
  }
  gBarTicks.forEach(t => {
    label(P, xBar(t) - (t === -3 ? 2 : 0) - (t === 0 ? 1 : 0), 270, String(t), 10, 'colorbar-tick', {'text-anchor': 'middle', style: 'fill:#333'});
  });
})();

/* ---------- panel H ---------- */
(function(){
  const P = g('panelH');
  const aucColors = {b: '#2b2f8c', g: '#77a92d', o: '#d99a2a', r: '#b3201c'};
  const aucMix = {b: 'bbbbg', x: 'bgbbg', g: 'gggbg', y: 'gogrg', o: 'ooogo', s: 'orrro', r: 'rrrro'};
  const rowTop = [563, 616.5, 670];
  const expr = [exprEOMES, exprNFAT5, exprIRF2];
  const auc = [aucEOMES, aucNFAT5, aucIRF2];
  const yLabels = [596, 650, 704];
  const xE = c => 55 + 4 * c, xA = c => 175 + 4 * c;
  label(P, 117.3, 551.7, "Expression", 14.6, 'column-title-expression', {'text-anchor': 'middle', style: 'fill:#222'});
  label(P, 233.7, 551.7, "AUC", 14.7, 'column-title-auc', {'text-anchor': 'middle', style: 'fill:#222'});
  hGenes.forEach((gene, i) => {
    const yH = r => rowTop[i] + 4 * r;
    label(P, 50, yLabels[i], gene, 13.3, 'gene-label-' + gene.toLowerCase(), {'text-anchor': 'end', style: 'fill:#222'});
    const grey = [], buckets = {b: [], g: [], o: [], r: []};
    hMaskBins.forEach(([r, a, b]) => {
      for (let c = a; c <= b; c++) {
        const edge = c === a || c === b;
        const n = edge ? 3 : 7;
        for (let k = 0; k < n; k++) {
          const s = cellDot(c, r, k, .6);
          grey.push([xE(c) + s[0], yH(r) + s[1]]);
          const top = c <= aucTopCols[i] && c >= 12 && r <= aucTopRows[i];
          const level = top ? aucTopLevel[i] : auc[i][c];
          const mix = aucMix[level];
          const key = mix[hashIdx(c, r, k) % 5];
          buckets[key].push([xA(c) + s[0], yH(r) + s[1]]);
        }
      }
    });
    dots(P, '#d8d8d8', 1, grey, 'expression-background-' + gene.toLowerCase());
    dots(P, '#c0583c', .8, expr[i].map(p => [xE(p[0]), yH(p[1])]), 'expression-points-' + gene.toLowerCase());
    ['g', 'b', 'o', 'r'].forEach(k => dots(P, aucColors[k], 1, buckets[k], 'auc-points-' + gene.toLowerCase() + '-' + k));
  });
})();

/* ---------- panel I ---------- */
(function(){
  const P = g('panelI');
  const cmap = [[-60,'#2a3080'],[0,'#ffffff'],[60,'#a61c1f']];
  const xI = i => 341.3 + 17.33 * i;
  const yI = i => 538.7 + 10.85 * i;
  iRegulons.forEach((reg, r) => {
    iColumns.forEach((col, c) => {
      mark(P, 'rect', {x: xI(c), y: yI(r), width: 17.6, height: 11.1, fill: ramp(cmap, iValues[r][c])}, 'cell-' + reg.toLowerCase().replace(/[()+]/g, '') + '-' + col.toLowerCase());
    });
    label(P, 414, yI(r) + 9, reg, 10.2, 'regulon-label-' + (r + 1), {style: 'fill:#333'});
  });
  iColumns.forEach((col, c) => {
    label(P, xI(c) + 8 - (c < 2 ? 1 : 0), 722.3, col, 10.2, 'column-label-' + col.toLowerCase(), {'text-anchor': 'middle', style: 'fill:#333'});
  });
  const yBar = v => 591 - v * 0.905;
  iBarTicks.forEach(t => {
    label(P, 497, yBar(t) + 2.4, String(t), 7, 'colorbar-i-tick-' + t, {'text-anchor': 'end', style: 'fill:#333'});
  });
})();

/* ---------- panel J ---------- */
(function(){
  const P = g('panelJ');
  const xJ = v => 561.7 + v * 0.004467;
  const yJ = v => 646.3 - 75.3 * v;
  mark(P, 'path', {d: 'M561.7 571V690.7', stroke: '#666', 'stroke-width': .8, fill: 'none'}, 'y-axis');
  mark(P, 'path', {d: 'M561.7 ' + yJ(0) + 'H717.7', stroke: '#888', 'stroke-width': .9, fill: 'none'}, 'zero-line');
  [664, 673, 681.7, 690.7].forEach((y, i) => {
    mark(P, 'path', {d: 'M561 ' + y + 'H717.7', stroke: i === 0 ? '#555' : '#999', 'stroke-width': .9, fill: 'none'}, 'hit-row-separator');
  });
  jYTicks.forEach((t, i) => {
    mark(P, 'path', {d: 'M559.5 ' + yJ(t) + 'H561.7', stroke: '#555', 'stroke-width': .6}, 'y-tick');
    label(P, 557, yJ(t) + 3.2, jYLabels[i], 8.8, 'y-tick-label', {'text-anchor': 'end', style: 'fill:#333'});
  });
  jXTicks.forEach(t => {
    mark(P, 'path', {d: 'M' + xJ(t) + ' 690.7V692.5', stroke: '#555', 'stroke-width': .6}, 'x-tick');
    label(P, xJ(t), 701, String(t), 8.3, 'x-tick-label', {'text-anchor': 'middle', style: 'fill:#333'});
  });
  label(P, 542, 631, "Running ES score", 10.2, 'y-axis-title', {'text-anchor': 'middle', transform: 'rotate(-90 542 631)', style: 'fill:#333'});
  function curve(rank, es, color, name){
    const pts = rank.map((v, i) => xJ(v).toFixed(2) + "," + yJ(es[i]).toFixed(2)).join(" ");
    mark(P, 'polyline', {points: pts, fill: 'none', stroke: color, 'stroke-width': 1, 'stroke-linejoin': 'round'}, name);
  }
  curve(pd1Rank, pd1ES, '#c8323a', 'pd1-curve');
  curve(ctla4Rank, ctla4ES, '#3443a0', 'ctla4-curve');
  curve(nfatRank, nfatES, '#d98a2e', 'nfat-curve');
  function hits(list, color, y0, y1, name){
    list.forEach((v, i) => {
      mark(P, 'line', {x1: xJ(v), x2: xJ(v), y1: y0, y2: y1, stroke: color, 'stroke-width': .7, opacity: (i % 5 === 4) ? .5 : .9}, name);
    });
  }
  hits(ctla4Hits, '#3443a0', 664.5, 672.5, 'ctla4-hit');
  hits(nfatHits, '#d98a2e', 673.5, 681.2, 'nfat-hit');
  hits(pd1Hits, '#c8323a', 682.2, 690.2, 'pd1-hit');
  const legC = ['#3443a0', '#c8323a', '#d98a2e'];
  const legTxt = ['#3b4a9c', '#c0392b', '#d98a2e'];
  jLegend.forEach((t, i) => {
    const yl = 564.7 + 6.65 * i;
    mark(P, 'line', {x1: 602.7, x2: 610.7, y1: yl, y2: yl, stroke: legC[i], 'stroke-width': .9}, 'legend-line-' + (i + 1));
    label(P, 615.7, yl + 1.6, t, 5.8, 'legend-label-' + (i + 1), {style: 'fill:' + legTxt[i]});
  });
})();
</script>
</body>
</html>
